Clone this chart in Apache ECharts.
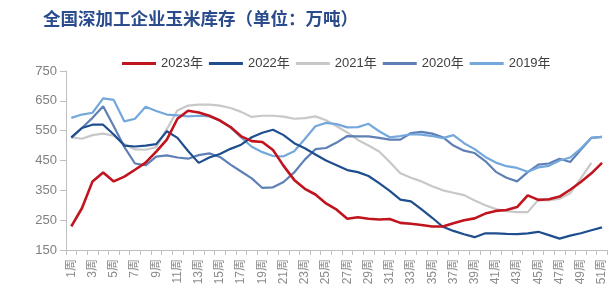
<!DOCTYPE html>
<html>
<head>
<meta charset="utf-8">
<script src="https://cdn.jsdelivr.net/npm/echarts@6/dist/echarts.min.js"></script>
<style>
html,body{margin:0;padding:0;background:#fff;}
#chart{width:608px;height:292px;}
</style>
</head>
<body>
<div id="chart"></div>
<script>
var weeks = [];
for (var i = 1; i <= 51; i++) weeks.push(i + '周');

var s2023 = [229,290,380,410,380,396,419,443,480,520,590,617,611,600,584,562,531,515,512,485,432,385,355,336,306,285,255,260,255,252,254,241,238,234,229,229,240,250,256,272,281,284,294,333,318,320,329,352,378,407,442];
var s2022 = [528,559,570,570,537,500,497,500,505,548,526,482,442,460,472,489,503,528,543,553,535,508,491,470,450,434,418,411,398,374,348,319,313,286,258,228,214,203,193,206,206,204,203,206,211,200,188,198,206,216,226];
var s2021 = [528,523,535,540,533,505,487,486,495,555,618,634,637,637,634,626,613,596,600,600,597,590,592,598,585,565,544,519,500,480,445,407,392,380,364,350,342,334,316,300,287,280,277,277,318,316,322,340,390,442,null];
var s2020 = [526,559,593,632,565,495,440,434,463,467,460,456,468,474,462,436,413,390,358,360,378,410,453,488,492,510,532,531,531,526,520,520,542,546,540,528,500,483,475,448,412,392,380,411,436,440,456,445,486,526,529];
var s2019 = [593,604,610,658,653,581,590,630,616,604,601,598,600,598,585,561,527,496,478,465,464,481,522,565,576,572,561,562,573,548,528,532,538,537,532,525,535,508,488,462,443,431,425,412,427,432,450,460,490,526,529];

var names = ['2023年','2022年','2021年','2020年','2019年'];
var colors = ['#C0141E','#1F4E8F','#C8C8C8','#5F80B6','#74A8DC'];
var datas = [s2023, s2022, s2021, s2020, s2019];
var widths = [2.6, 2.2, 2.2, 2.2, 2.2];
var zs = [6, 5, 2, 3, 4];

var chart = echarts.init(document.getElementById('chart'), null, {renderer: 'canvas'});
var series = names.map(function (n, k) {
  return {
    name: n,
    type: 'line',
    data: datas[k],
    symbol: 'none',
    z: zs[k],
    lineStyle: {color: colors[k], width: widths[k]},
    itemStyle: {color: colors[k]}
  };
});

chart.setOption({
  animation: false,
  backgroundColor: '#ffffff',
  title: {
    text: '全国深加工企业玉米库存（单位：万吨）',
    left: 38,
    top: 5,
    textStyle: {fontSize: 17.5, fontWeight: 'bold', color: '#2A4B8C', fontFamily: 'Noto Sans CJK SC'}
  },
  legend: {
    left: 117,
    top: 52,
    icon: 'rect',
    itemWidth: 34,
    itemHeight: 3,
    itemGap: 6,
    textStyle: {fontSize: 13, color: '#404040', fontFamily: 'Arial, "Noto Sans CJK SC"'},
    data: names
  },
  grid: {left: 66, top: 71, width: 543, height: 179},
  xAxis: {
    type: 'category',
    data: weeks,
    boundaryGap: true,
    axisLine: {lineStyle: {color: '#BFBFBF', width: 1}},
    axisTick: {show: true, interval: 0, length: 5, lineStyle: {color: '#BFBFBF'}},
    axisLabel: {interval: 1, rotate: 90, fontSize: 12, color: '#8C8C8C', margin: 9, fontFamily: 'Arial, "Noto Sans CJK SC"'},
    splitLine: {show: false}
  },
  yAxis: {
    type: 'value',
    min: 150,
    max: 750,
    interval: 100,
    axisLine: {show: true, lineStyle: {color: '#BFBFBF', width: 1}},
    axisTick: {show: true, length: 6, lineStyle: {color: '#BFBFBF'}},
    axisLabel: {fontSize: 13, color: '#808080', margin: 9, fontFamily: 'Arial'},
    splitLine: {show: false}
  },
  series: series
});
</script>
</body>
</html>
